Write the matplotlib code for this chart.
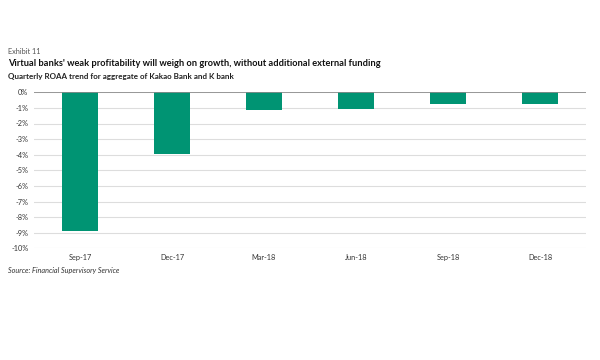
import matplotlib
matplotlib.use("Agg")
import matplotlib.pyplot as plt
from matplotlib.ticker import FuncFormatter

categories = ["Sep-17", "Dec-17", "Mar-18", "Jun-18", "Sep-18", "Dec-18"]
roaa = [-8.9, -3.97, -1.15, -1.04, -0.73, -0.78]
yticks = list(range(0, -11, -1))

plt.rcParams['font.family'] = ['Lato', 'DejaVu Sans']

fig = plt.figure(figsize=(6, 3.6), dpi=100)
ax = fig.add_axes([34/600, 1 - 248.3/360, 552/600, (248.3 - 92.3)/360])

x = range(len(categories))
ax.bar(x, roaa, width=0.4, color="#009473", zorder=3)
ax.set_xlim(-0.5, len(categories) - 0.5)
ax.set_ylim(-10, 0)
ax.set_yticks(yticks)
ax.yaxis.set_major_formatter(FuncFormatter(lambda v, p: f"{int(round(v))}%"))
ax.set_xticks(list(x))
ax.set_xticklabels(categories)
ax.grid(axis='y', color="#dddddd", linewidth=0.8, zorder=0)
ax.axhline(0, color="#8c8c8c", linewidth=1.2, zorder=4)
for s in ax.spines.values():
    s.set_visible(False)
ax.tick_params(axis='both', length=0, labelsize=5.3, colors="#333333")
ax.tick_params(axis='x', pad=4)
ax.tick_params(axis='y', pad=4)

fig.text(8/600, 1 - 51/360, "Exhibit 11", fontsize=5.3, color="#555555", va='center')
fig.text(8/600, 1 - 63/360, "Virtual banks' weak profitability will weigh on growth, without additional external funding",
         fontsize=6.7, fontweight='bold', color="#111111", va='center')
fig.text(8/600, 1 - 77/360, "Quarterly ROAA trend for aggregate of Kakao Bank and K bank",
         fontsize=5.8, fontweight='bold', color="#222222", va='center')
fig.text(8/600, 1 - 271/360, "Source: Financial Supervisory Service", fontsize=5.2, style='italic',
         color="#333333", va='center')

fig.savefig("out.png", dpi=100, facecolor="white")
